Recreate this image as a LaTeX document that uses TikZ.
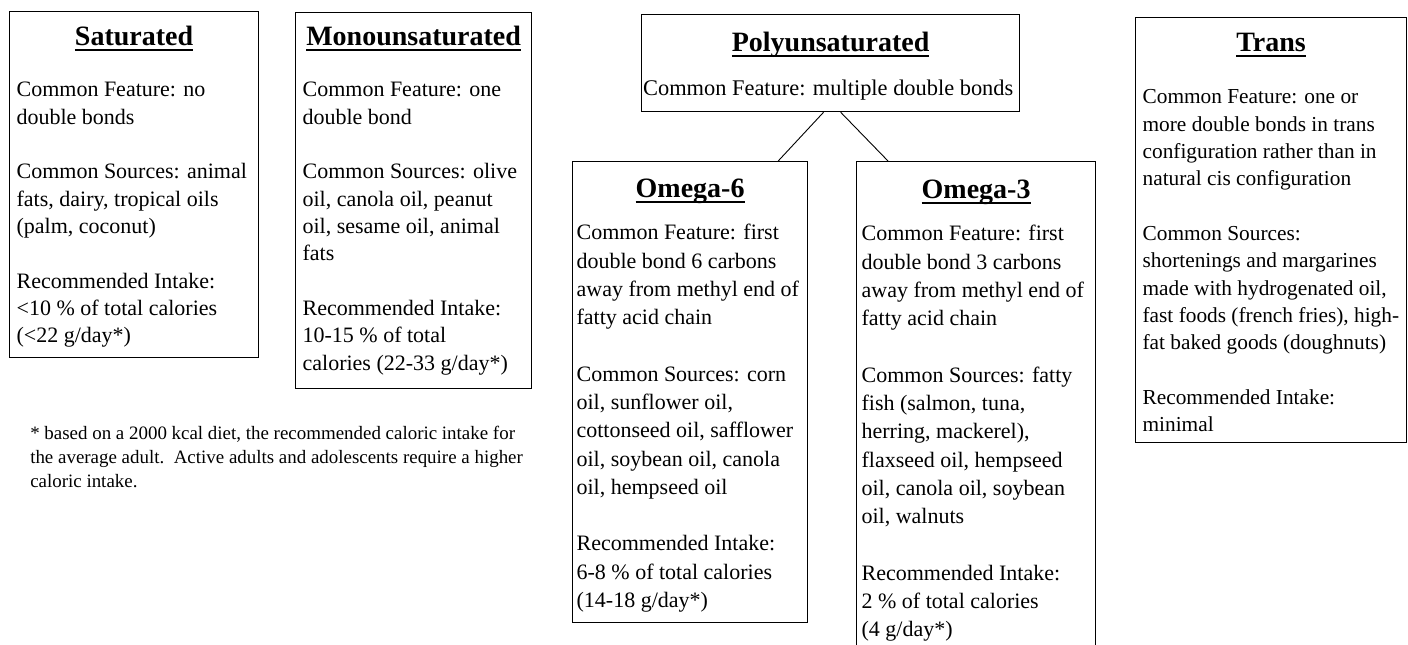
\documentclass[tikz,border=0pt]{standalone}
\usepackage{fontspec}
\setmainfont{Liberation Serif}
\usetikzlibrary{positioning}

\newlength\pxu
\setlength\pxu{0.75pt}
\newcommand{\bodyfont}{\fontsize{16.5}{20.5}\selectfont}
\newcommand{\omegafont}{\fontsize{16.5}{21.2}\selectfont}
\newcommand{\polyfont}{\fontsize{16.8}{19}\selectfont}
\newcommand{\transfont}{\fontsize{16}{20.5}\selectfont}
\newcommand{\notefont}{\fontsize{14.2}{18}\selectfont}
\newcommand{\headfont}{\fontsize{21}{24}\selectfont\bfseries}
% bold title with a thick rule under it
\newcommand{\fathead}[1]{\makebox[\linewidth]{\headfont\setbox0=\hbox{#1}\rlap{\copy0}\raisebox{-5\pxu}{\rule{\wd0}{2\pxu}}}}
\newcommand{\fatbox}[3]{\parbox[t][#2\pxu][t]{#1\pxu}{#3}}

\tikzset{
  fatnode/.style={draw, shape=rectangle, anchor=north west, inner xsep=5\pxu, inner ysep=0pt, line width=1.2\pxu},
  link/.style={line width=0.9\pxu}
}

\begin{document}
\begin{tikzpicture}[x=0.75pt,y=-0.75pt]
            \useasboundingbox (0,0) rectangle (1408,645);
            \clip (0,0) rectangle (1408,645);

            \node[fatnode,inner xsep=7\pxu](sat)at(9,11){\fatbox{235}{346}{\bodyfont
              \fathead{Saturated}\rule{0pt}{34\pxu}\\[24\pxu]
              Common Feature: no\\
              double bonds\\[\baselineskip]
              Common Sources: animal\\
              fats, dairy, tropical oils\\
              (palm, coconut)\\[\baselineskip]
              Recommended Intake:\\
              <10 \% of total calories\\
              (<22 g/day*)}};
            \node[fatnode,inner xsep=7\pxu](mono)at(295,12){\fatbox{222}{376}{\bodyfont
              \fathead{Monounsaturated}\rule{0pt}{33\pxu}\\[24\pxu]
              Common Feature: one\\
              double bond\\[\baselineskip]
              Common Sources: olive\\
              oil, canola oil, peanut\\
              oil, sesame oil, animal\\
              fats\\[\baselineskip]
              Recommended Intake:\\
              10-15 \% of total\\
              calories (22-33 g/day*)}};

            \node[fatnode,inner xsep=1.5\pxu](poly)at(641,14){\fatbox{375}{97}{\polyfont
              \fathead{Polyunsaturated}\rule{0pt}{37\pxu}\\[19\pxu]
              Common Feature: multiple double bonds}};

            \node[fatnode,inner xsep=4\pxu](om6)at(572,161){\fatbox{227}{461}{\omegafont
              \fathead{Omega-6}\rule{0pt}{36\pxu}\\[14\pxu]
              Common Feature: first\\
              double bond 6 carbons\\
              away from methyl end of\\
              fatty acid chain\\[\baselineskip]
              Common Sources: corn\\
              oil, sunflower oil,\\
              cottonseed oil, safflower\\
              oil, soybean oil, canola\\
              oil, hempseed oil\\[\baselineskip]
              Recommended Intake:\\
              6-8 \% of total calories\\
              (14-18 g/day*)}};
            \node[fatnode](om3)at(856,161){\fatbox{229}{600}{\omegafont
              \fathead{Omega-3}\rule{0pt}{37\pxu}\\[14\pxu]
              Common Feature: first\\
              double bond 3 carbons\\
              away from methyl end of\\
              fatty acid chain\\[\baselineskip]
              Common Sources: fatty\\
              fish (salmon, tuna,\\
              herring, mackerel),\\
              flaxseed oil, hempseed\\
              oil, canola oil, soybean\\
              oil, walnuts\\[\baselineskip]
              Recommended Intake:\\
              2 \% of total calories\\
              (4 g/day*)}};

            % right edge of this box sits at the very edge of the picture
            \node[fatnode,inner xsep=7\pxu](trans)at(1135,17){\fatbox{257}{425}{\transfont
              \fathead{Trans}\rule{0pt}{34\pxu}\\[25\pxu]
              Common Feature: one or\\
              more double bonds in trans\\
              configuration rather than in\\
              natural cis configuration\\[\baselineskip]
              Common Sources:\\
              shortenings and margarines\\
              made with hydrogenated oil,\\
              fast foods (french fries), high-\\
              fat baked goods (doughnuts)\\[\baselineskip]
              Recommended Intake:\\
              minimal}};

            \node[anchor=north west,inner sep=0pt,align=left,font=\notefont](note)at(30,426){* based on a 2000 kcal diet, the recommended caloric intake for\\
              the average adult.\ \ Active adults and adolescents require a higher\\
              caloric intake.};

            \draw[link]([xshift=-7\pxu]poly.south)--([xshift=-30\pxu]om6.north east);
            \draw[link]([xshift=10\pxu]poly.south)--([xshift=32\pxu]om3.north west);
\end{tikzpicture}
\end{document}
